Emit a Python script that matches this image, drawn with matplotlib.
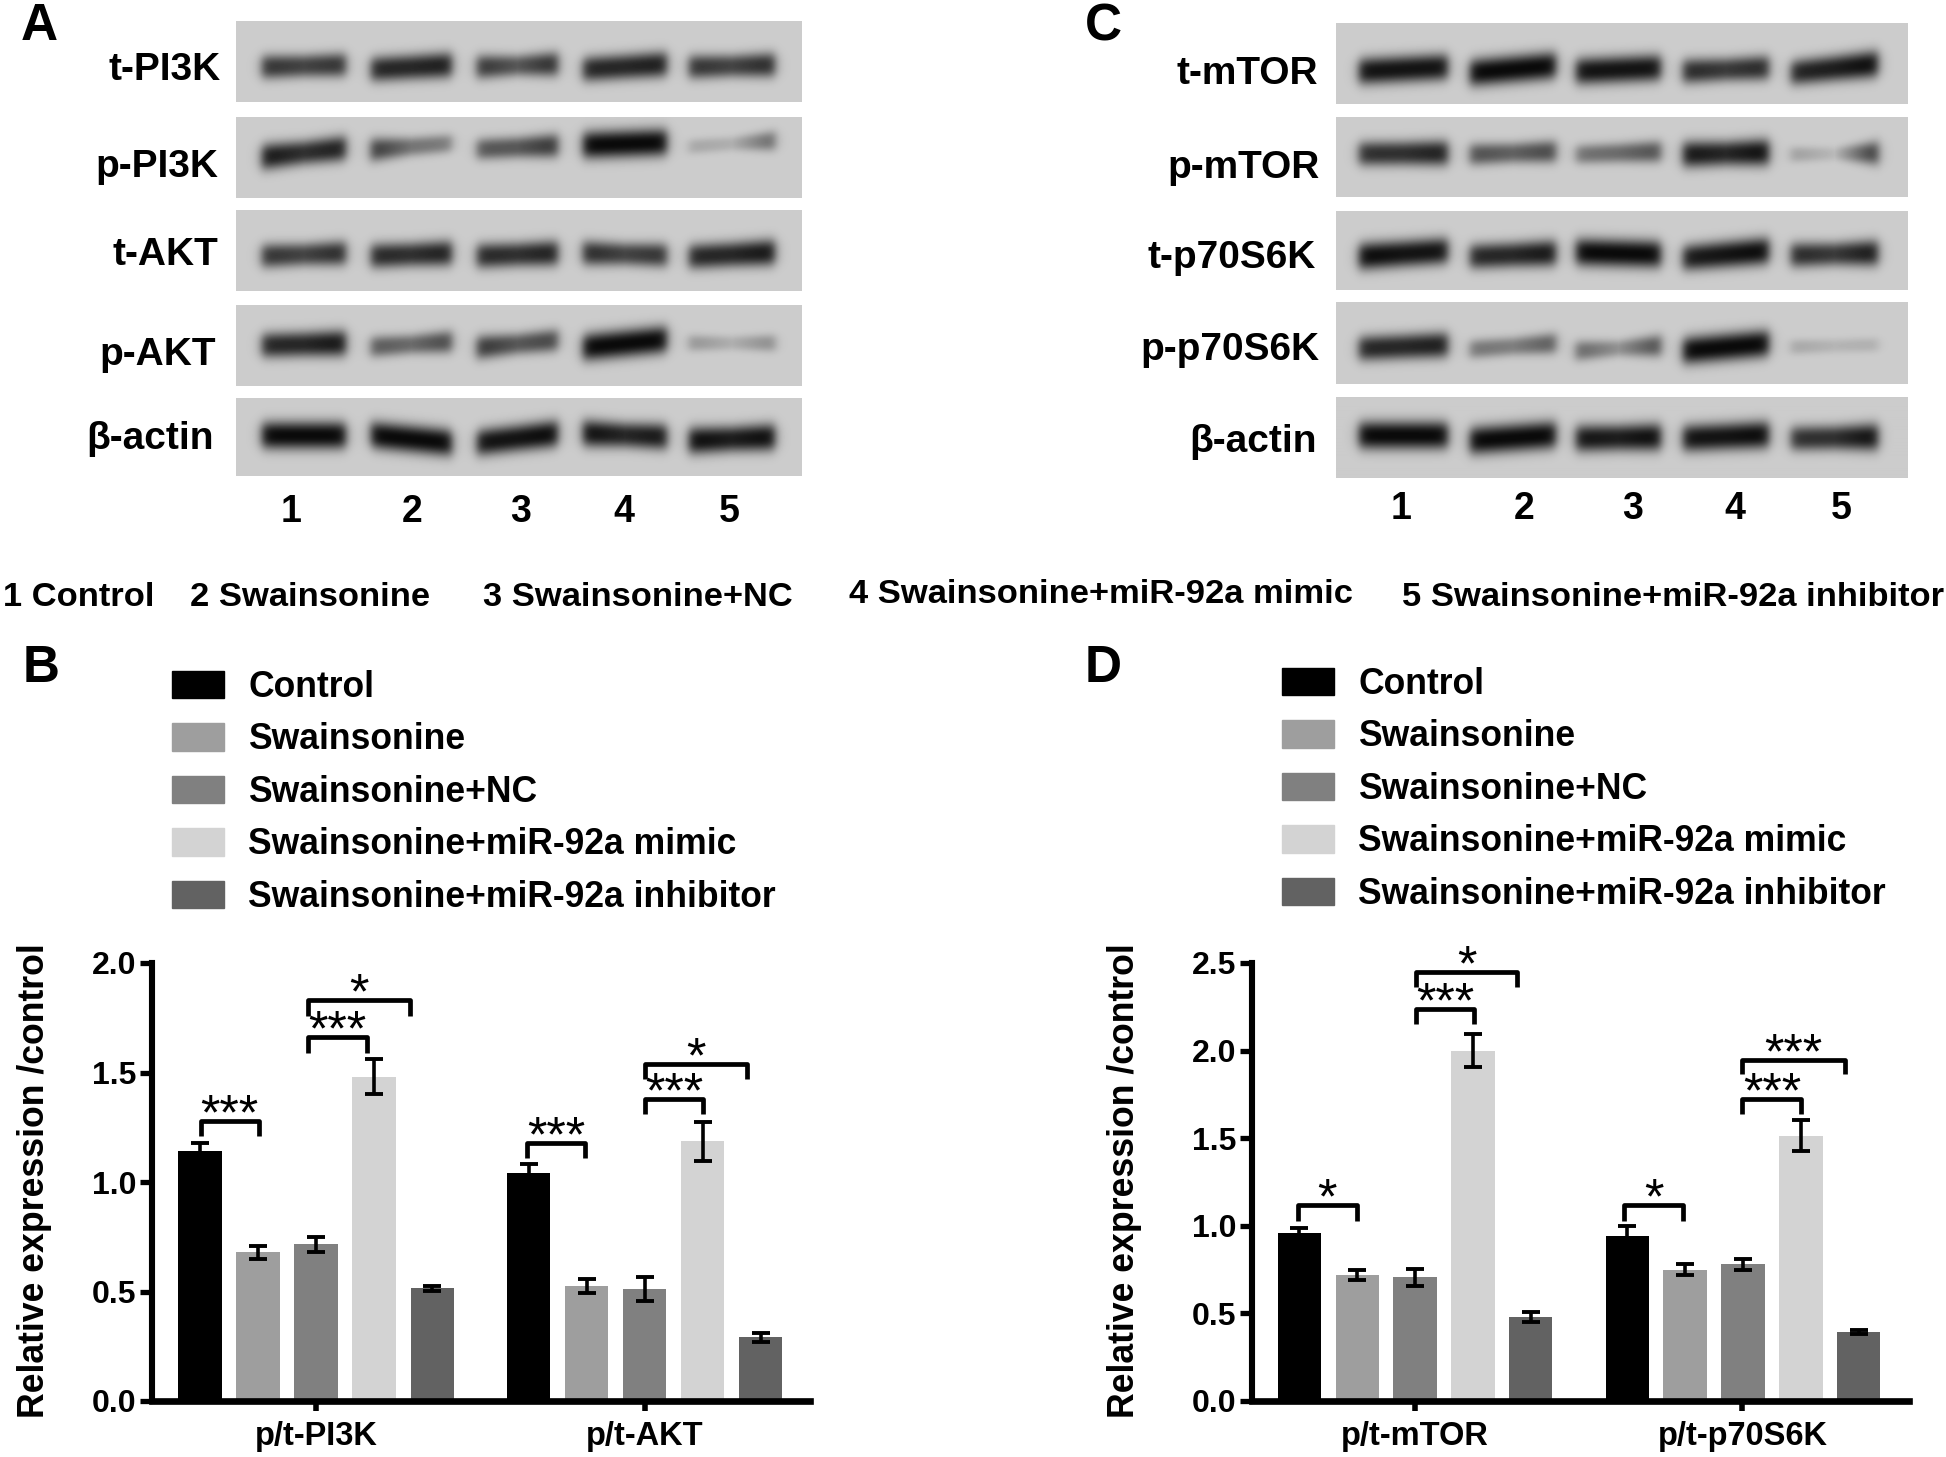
import numpy as np
import matplotlib
matplotlib.use('Agg')
import matplotlib.pyplot as plt

plt.rcParams['font.family'] = ['Liberation Sans', 'DejaVu Sans']
plt.rcParams['font.weight'] = 'bold'

W, H = 1946, 1457

# --- groups ---
grupos = ['Control', 'Swainsonine', 'Swainsonine+NC',
          'Swainsonine+miR-92a mimic', 'Swainsonine+miR-92a inhibitor']
cores = ['#000000', '#9e9e9e', '#808080', '#d3d3d3', '#626262']
rodape = ['1 Control', '2 Swainsonine', '3 Swainsonine+NC',
          '4 Swainsonine+miR-92a mimic', '5 Swainsonine+miR-92a inhibitor']
rodape_xy = [(3, 598), (190, 598), (483, 598), (849, 594), (1402, 598)]

# --- panel B ---
b_vals = [1.14, 0.68, 0.715, 1.48, 0.515, 1.04, 0.525, 0.51, 1.185, 0.29]
b_errs = [0.04, 0.03, 0.035, 0.08, 0.012, 0.04, 0.03, 0.055, 0.09, 0.02]
b_cats = ['p/t-PI3K', 'p/t-AKT']
b_ticks = [0, 0.5, 1.0, 1.5, 2.0]
# x0, x1, top, bottom, label
b_brk = [(0.01, 1.01, 1.28, 1.21, '***'), (1.86, 2.87, 1.66, 1.59, '***'),
         (1.86, 3.62, 1.83, 1.76, '*'), (5.63, 6.63, 1.18, 1.11, '***'),
         (7.66, 8.67, 1.378, 1.31, '***'), (7.66, 9.42, 1.54, 1.47, '*')]

# --- panel D ---
d_vals = [0.96, 0.72, 0.705, 2.0, 0.48, 0.94, 0.75, 0.78, 1.515, 0.395]
d_errs = [0.03, 0.03, 0.05, 0.095, 0.03, 0.06, 0.03, 0.03, 0.09, 0.012]
d_cats = ['p/t-mTOR', 'p/t-p70S6K']
d_ticks = [0, 0.5, 1.0, 1.5, 2.0, 2.5]
d_brk = [(-0.03, 0.99, 1.117, 1.03, '*'), (2.02, 3.02, 2.235, 2.15, '***'),
         (2.02, 3.77, 2.446, 2.364, '*'), (5.61, 6.64, 1.117, 1.03, '*'),
         (7.66, 8.68, 1.723, 1.64, '***'), (7.66, 9.43, 1.947, 1.867, '***')]

# --- blots: darkness (left, mid, right) and band height (left, right) per lane ---
a_nomes = ['t-PI3K', 'p-PI3K', 't-AKT', 'p-AKT', 'β-actin']
a_escuro = [
    [(.8, .7, .8), (.85, .85, .9), (.8, .6, .85), (.85, .85, .9), (.8, .7, .85)],
    [(.95, .8, .9), (.8, .45, .4), (.6, .6, .8), (1, 1, 1), (.2, .15, .55)],
    [(.8, .7, .85), (.85, .8, .9), (.85, .8, .9), (.85, .7, .8), (.85, .85, .95)],
    [(.85, .85, .95), (.6, .5, .7), (.8, .6, .7), (1, 1, 1), (.3, .15, .35)],
    [(1, 1, 1), (1, 1, 1), (.95, .95, 1), (1, .85, .95), (1, .9, 1)],
]
a_altura = [
    [(.57, .54), (.60, .54), (.57, .53), (.60, .53), (.57, .54)],
    [(.50, .38), (.41, .32), (.40, .35), (.35, .31), (.37, .29)],
    [(.57, .53), (.57, .53), (.57, .53), (.53, .56), (.58, .52)],
    [(.50, .47), (.52, .45), (.53, .43), (.53, .42), (.47, .47)],
    [(.48, .48), (.47, .58), (.58, .45), (.45, .50), (.55, .50)],
]
c_nomes = ['t-mTOR', 'p-mTOR', 't-p70S6K', 'p-p70S6K', 'β-actin']
c_escuro = [
    [(.95, .95, .95), (1, 1, 1), (.95, .95, .95), (.85, .75, .85), (.85, .9, 1)],
    [(.8, .8, .9), (.65, .55, .7), (.45, .5, .65), (.95, .85, 1), (.25, .1, .85)],
    [(1, .95, .95), (.85, .85, .95), (1, 1, 1), (.9, .95, 1), (.85, .75, .95)],
    [(.85, .85, .9), (.45, .4, .6), (.55, .3, .7), (1, 1, 1), (.2, .12, .15)],
    [(1, 1, 1), (1, 1, 1), (.95, .9, 1), (.95, .95, 1), (.8, .8, 1)],
]
c_altura = [
    [(.60, .54), (.62, .52), (.60, .55), (.60, .55), (.62, .50)],
    [(.46, .45), (.47, .43), (.47, .43), (.47, .44), (.47, .45)],
    [(.58, .50), (.58, .53), (.52, .55), (.60, .50), (.56, .53)],
    [(.57, .52), (.58, .50), (.60, .53), (.60, .50), (.55, .52)],
    [(.48, .48), (.55, .47), (.52, .50), (.52, .47), (.52, .50)],
]
numeros = ['1', '2', '3', '4', '5']

fig = plt.figure(figsize=(W/100, H/100), dpi=100)


def rect(x0, y0, x1, y1):
    return [x0/W, 1 - y1/H, (x1-x0)/W, (y1-y0)/H]


def texto(x, y, s, **kw):
    fig.text(x/W, 1 - y/H, s, **kw)


def faixa(box, lanes, escuro, altura):
    x0, y0, x1, y1 = box
    w, h = x1-x0, y1-y0
    X, Y = np.meshgrid(np.arange(x0, x1) + 0.5, np.arange(h) + 0.5)
    img = np.full((h, w), 0.80)
    for (a, b), d3, yy in zip(lanes, escuro, altura):
        t = np.clip((X-a)/(b-a), 0, 1)
        d = np.interp(t, [0, .5, 1], d3)
        yc = np.interp(t, [0, 1], yy) * h
        borda = 1/(1+np.exp(-(X-a-3)/3)) * 1/(1+np.exp((X-b+3)/3))
        s = 14*(0.45 + 0.55*d)
        f = np.exp(-np.abs((Y-yc)/s)**2.4)
        img *= 1 - 0.95*d*borda*f
    ax = fig.add_axes(rect(x0, y0, x1, y1))
    ax.imshow(img, cmap='gray', vmin=0, vmax=1, aspect='auto', interpolation='bilinear')
    ax.axis('off')


def blot(xs, ys, lanes, nomes, escuro, altura, label_xy, num_x, num_y):
    for i in range(5):
        faixa((xs[0], ys[i][0], xs[1], ys[i][1]), lanes, escuro[i], altura[i])
        texto(label_xy[i][0], label_xy[i][1], nomes[i], fontsize=28, ha='right', va='center')
    for x, n in zip(num_x, numeros):
        texto(x, num_y, n, fontsize=27, ha='center', va='center')


def barras(box, ylim, vals, errs, cats, yticks, brk, xlim, xcats, passo2):
    ax = fig.add_axes(rect(*box))
    x = list(range(5)) + [passo2 + i for i in range(5)]
    cs = cores + cores
    ax.bar(x, vals, width=0.75, color=cs, zorder=2)
    ax.errorbar(x, vals, yerr=errs, fmt='none', ecolor='black', elinewidth=2.6,
                capsize=6.5, capthick=2.8, zorder=3)
    for x0, x1, top, bot, lab in brk:
        ax.plot([x0, x0, x1, x1], [bot, top, top, bot], color='black', lw=3.4,
                solid_joinstyle='round', solid_capstyle='butt', clip_on=False, zorder=4)
        ax.annotate(lab, ((x0+x1)/2, top), xytext=(0, -6), textcoords='offset points',
                    ha='center', va='baseline', fontsize=36, fontweight='normal',
                    annotation_clip=False)
    ax.set_xlim(*xlim)
    ax.set_ylim(*ylim)
    ax.set_xticks(xcats)
    ax.set_xticklabels(cats, fontsize=23.5)
    ax.set_yticks(yticks)
    ax.set_yticklabels([f'{v:.1f}' for v in yticks], fontsize=23)
    ax.tick_params(axis='x', length=7.5, width=4, pad=7)
    ax.tick_params(axis='y', length=8.5, width=3.8, pad=3)
    ax.spines['top'].set_visible(False)
    ax.spines['right'].set_visible(False)
    ax.spines['left'].set_linewidth(4.4)
    ax.spines['bottom'].set_linewidth(4.8)
    ax.patch.set_alpha(0)
    return ax


def legenda(x, y):
    hs = [plt.Rectangle((0, 0), 1, 1, color=c) for c in cores]
    fig.legend(hs, grupos, loc='upper left', bbox_to_anchor=(x/W, 1 - y/H), frameon=False,
               fontsize=25.6, handlelength=1.46, handleheight=0.82, handletextpad=0.68,
               labelspacing=0.49, borderpad=0, borderaxespad=0)


# --- blot A ---
blot((236, 802),
     [(21, 102), (117, 198), (210, 291), (305, 386), (398, 476)],
     [(259, 349), (368, 455), (474, 561), (580, 670), (686, 778)],
     a_nomes, a_escuro, a_altura,
     [(221, 70), (218, 167), (218, 255), (216, 355), (214, 439)],
     [291, 412, 521, 624, 729], 512)

# --- blot C ---
blot((1336, 1908),
     [(23, 104), (117, 197), (211, 290), (302, 384), (397, 478)],
     [(1356, 1451), (1467, 1559), (1573, 1664), (1680, 1772), (1788, 1881)],
     c_nomes, c_escuro, c_altura,
     [(1318, 74), (1320, 168), (1316, 258), (1320, 350), (1317, 442)],
     [1401, 1524, 1633, 1735, 1841], 509)

for s, (x, y) in zip(rodape, rodape_xy):
    texto(x, y, s, fontsize=24.8, ha='left', va='center')

# --- bars ---
axb = barras((152, 963, 810, 1401), (0, 2.0), b_vals, b_errs, b_cats, b_ticks, b_brk,
             (-0.83, 10.51), [2.0, 7.66], 5.66)
axd = barras((1252, 963, 1909, 1401), (0, 2.5), d_vals, d_errs, d_cats, d_ticks, d_brk,
             (-0.82, 10.54), [2.0, 7.66], 5.67)
legenda(172, 670)
legenda(1282, 667)

texto(35, 1181, 'Relative expression /control', fontsize=25.7, rotation=90, ha='center', va='center')
texto(1125, 1181, 'Relative expression /control', fontsize=25.7, rotation=90, ha='center', va='center')

for s, x, y in [('A', 21, 27), ('B', 23, 668), ('C', 1085, 27), ('D', 1085, 668)]:
    texto(x, y, s, fontsize=37, ha='left', va='center')

fig.savefig('out.png', dpi=100)
